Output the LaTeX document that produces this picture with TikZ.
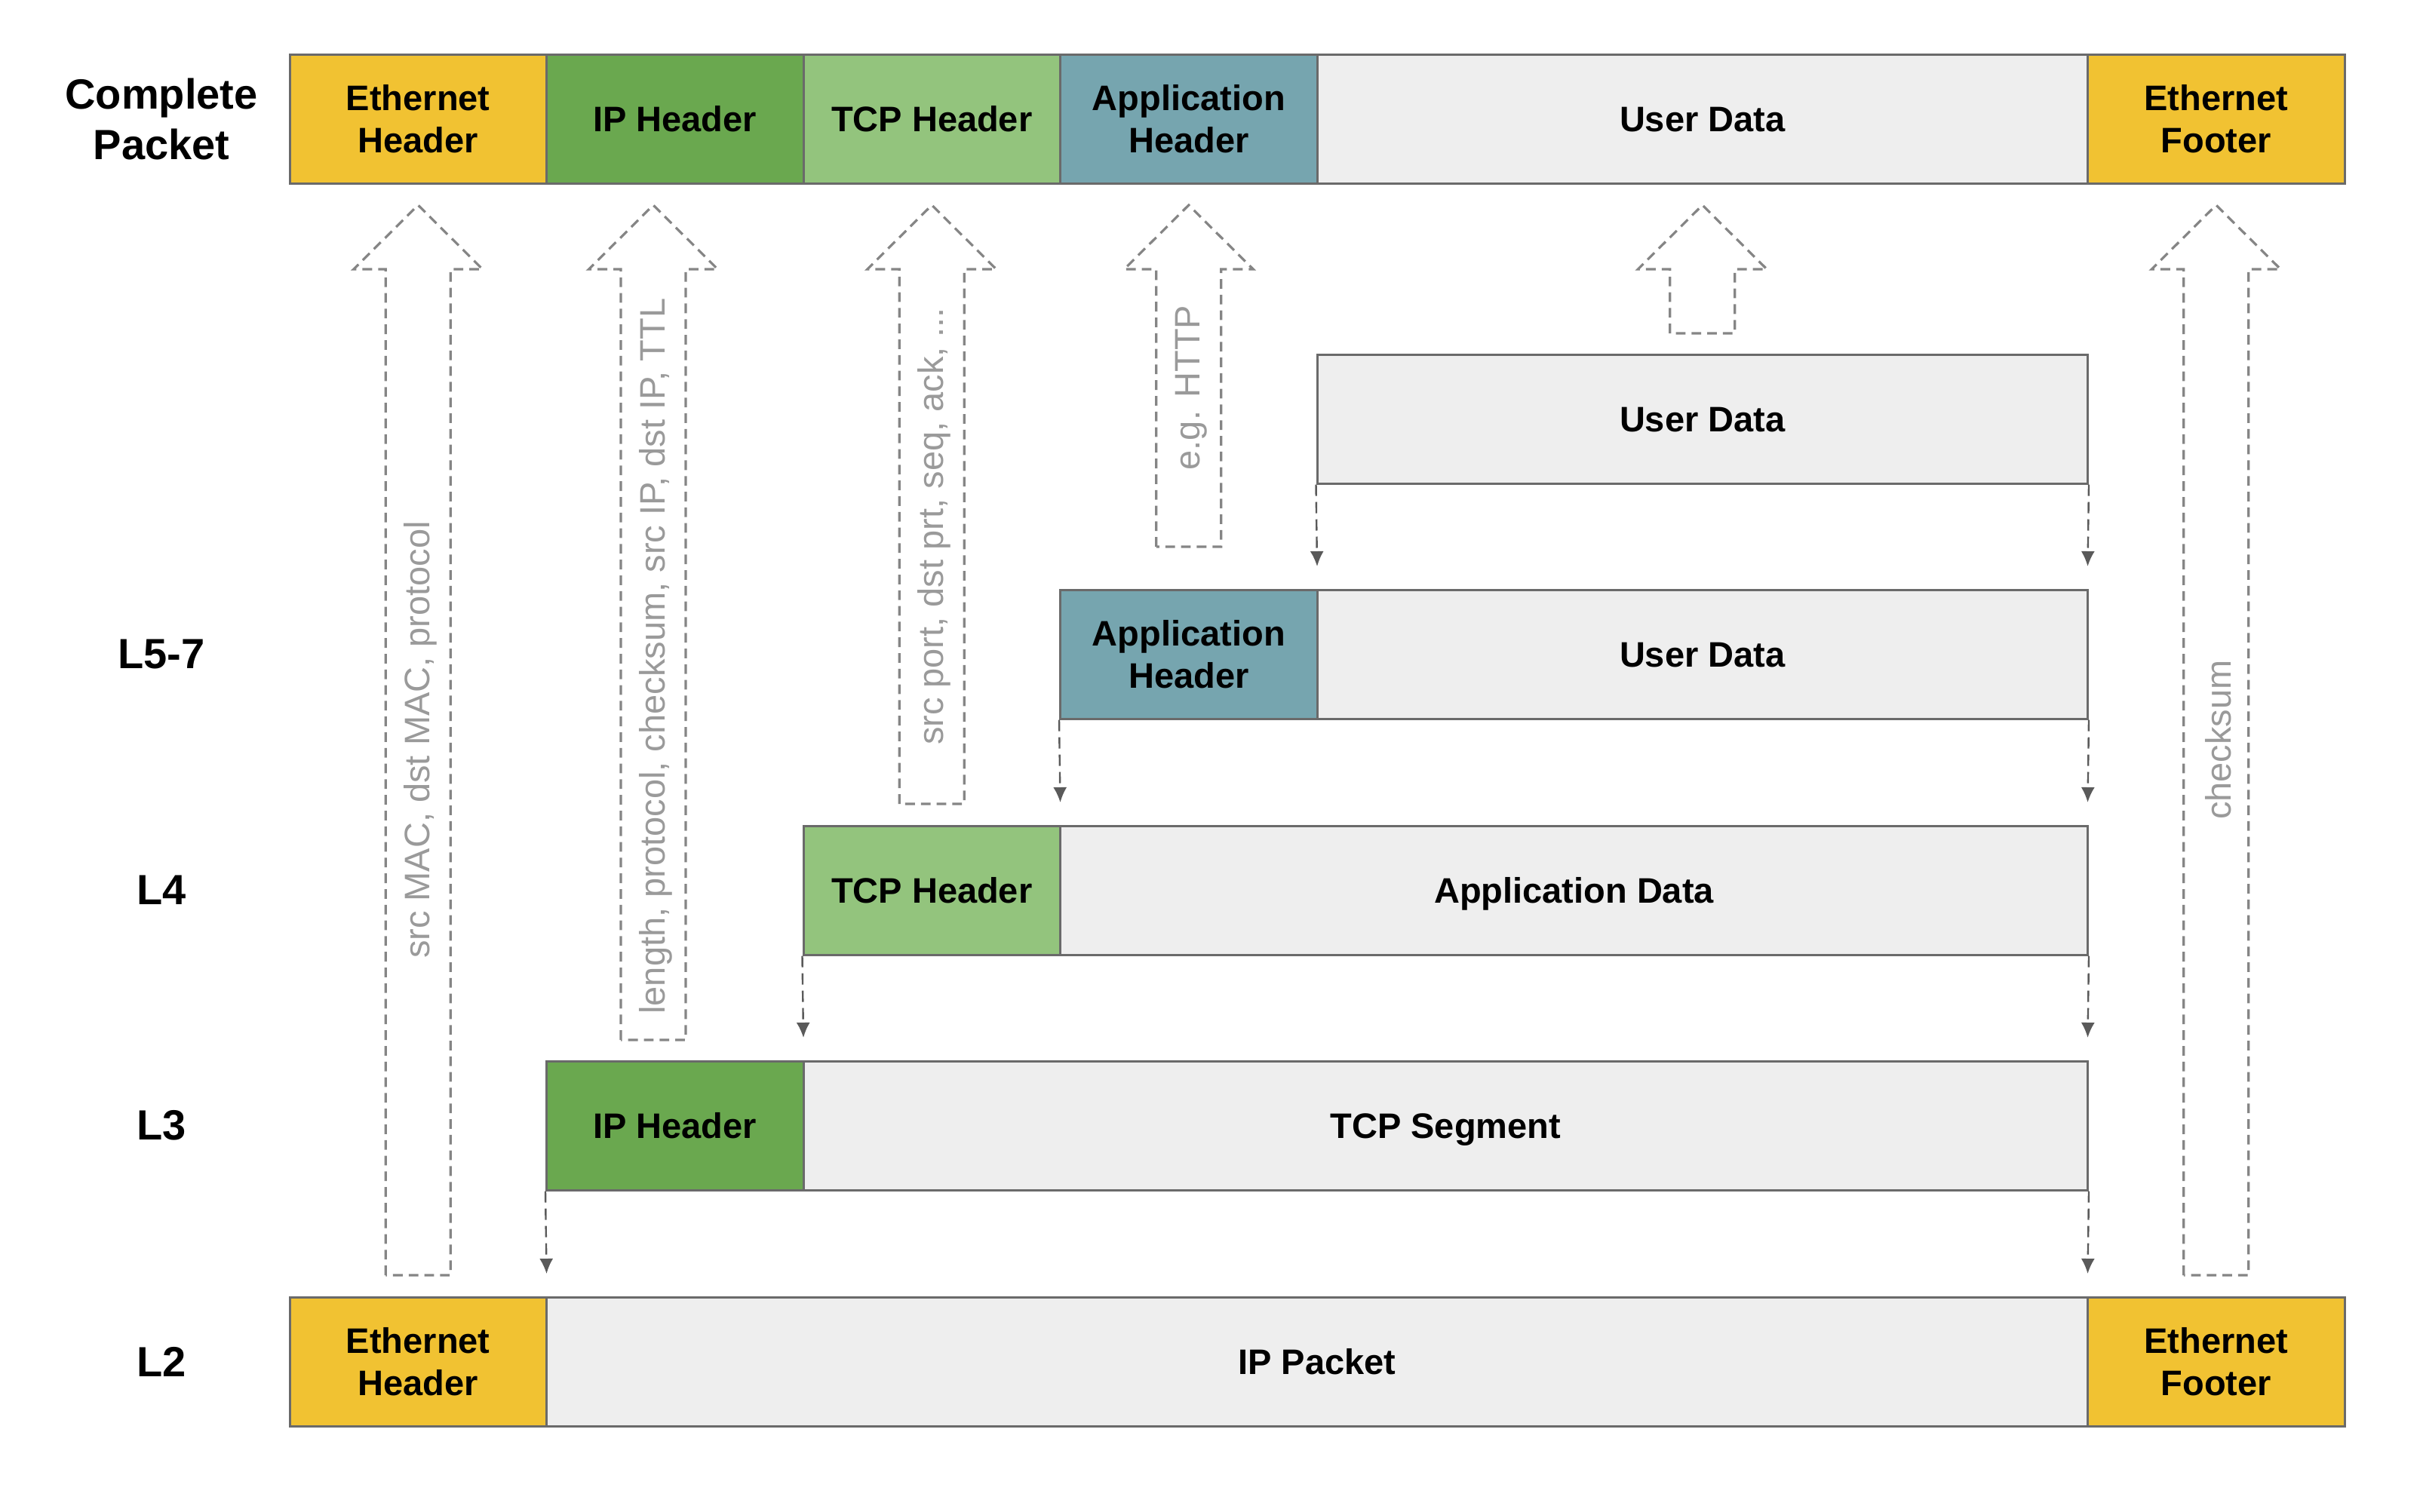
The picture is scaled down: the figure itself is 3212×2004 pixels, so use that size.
\documentclass[tikz,border=0pt]{standalone}
\usepackage{fontspec}
\setmainfont{Liberation Sans}
\usetikzlibrary{arrows.meta}
\definecolor{ethy}{HTML}{F1C232}
\definecolor{ipg}{HTML}{6AA84F}
\definecolor{tcpg}{HTML}{93C47D}
\definecolor{appb}{HTML}{76A5AF}
\definecolor{datag}{HTML}{EEEEEE}
\definecolor{edgeg}{HTML}{6A6A6A}
\definecolor{dashg}{HTML}{858585}
\definecolor{noteg}{HTML}{9A9A9A}
\definecolor{downg}{HTML}{5A5A5A}
\newcommand{\hollowarrow}[2]{%
  \draw[hollow] ({#1-43},#2) -- ({#1-43},357) -- ({#1-85.5},357) -- (#1,272) -- ({#1+85.5},357) -- ({#1+43},357) -- ({#1+43},#2) -- cycle;}
\begin{document}
\begin{tikzpicture}[x=0.25pt,y=-0.25pt,
  cell/.style={draw=edgeg, line width=0.75pt, rectangle, inner sep=0pt, minimum height=42.75pt, align=center, font=\fontsize{11.75}{14}\selectfont\bfseries},
  one/.style={text height=8.4pt, text depth=0pt},
  cw/.style={minimum width=#1*85.125pt},
  layer/.style={font=\fontsize{14}{16.75}\selectfont\bfseries, align=center, inner sep=0pt},
  hollow/.style={draw=dashg, line width=0.8pt, dash pattern=on 3.2pt off 2pt, line join=miter},
  note/.style={text=noteg, font=\fontsize{11.75}{14}\selectfont, rotate=90, inner sep=0pt},
  downarr/.style={draw=downg, line width=0.6pt, dash pattern=on 3.75pt off 2pt, -{Latex[length=5pt,width=4.5pt]}}
]
\useasboundingbox (0,0) rectangle (3212,2004);

% layer labels
\node[layer] (lblC) at (214,158) {Complete\\Packet};
\node[layer] (lbl57) at (214,867.5) {L5-7};
\node[layer] (lbl4) at (214,1180.5) {L4};
\node[layer] (lbl3) at (214,1492.5) {L3};
\node[layer] (lbl2) at (214,1805.5) {L2};

% complete packet
\node[cell, cw=1, fill=ethy] (cEth) at (554.25,158) {Ethernet\\Header};
\node[cell, one, cw=1, fill=ipg] (cIP) at (894.75,158) {IP Header};
\node[cell, one, cw=1, fill=tcpg] (cTCP) at (1235.25,158) {TCP Header};
\node[cell, cw=1, fill=appb] (cApp) at (1575.75,158) {Application\\Header};
\node[cell, one, cw=3, fill=datag] (cUD) at (2256.75,158) {User Data};
\node[cell, cw=1, fill=ethy] (cFoot) at (2937.75,158) {Ethernet\\Footer};

% user data row
\node[cell, one, cw=3, fill=datag] (uUD) at (2256.75,555.5) {User Data};

% L5-7
\node[cell, cw=1, fill=appb] (aHdr) at (1575.75,867.5) {Application\\Header};
\node[cell, one, cw=3, fill=datag] (aUD) at (2256.75,867.5) {User Data};

% L4
\node[cell, one, cw=1, fill=tcpg] (tHdr) at (1235.25,1180.5) {TCP Header};
\node[cell, one, cw=4, fill=datag] (tData) at (2086.5,1180.5) {Application Data};

% L3
\node[cell, one, cw=1, fill=ipg] (iHdr) at (894.75,1492.5) {IP Header};
\node[cell, one, cw=5, fill=datag] (iSeg) at (1916.25,1492.5) {TCP Segment};

% L2
\node[cell, cw=1, fill=ethy] (eHdr) at (554.25,1805.5) {Ethernet\\Header};
\node[cell, one, cw=6, fill=datag] (ePkt) at (1746,1805.5) {IP Packet};
\node[cell, cw=1, fill=ethy] (eFoot) at (2937.75,1805.5) {Ethernet\\Footer};

% hollow dashed up arrows
\hollowarrow{554.25}{1691}
\hollowarrow{866}{1379}
\hollowarrow{1235.25}{1066}
\hollowarrow{1575.75}{725}
\hollowarrow{2256.75}{442}
\hollowarrow{2937.75}{1691}

\node[note] (nEth) at (557,981) {src MAC, dst MAC, protocol};
\node[note] (nIP) at (869,870) {length, protocol, checksum, src IP, dst IP, TTL};
\node[note] (nTCP) at (1238,698) {src port, dst prt, seq, ack, ...};
\node[note] (nApp) at (1579,514) {e.g. HTTP};
\node[note] (nFoot) at (2941,981) {checksum};

% down arrows
\coordinate (d1l) at (1746,751);
\coordinate (d1r) at (2767.5,751);
\coordinate (d2l) at (1405.5,1064);
\coordinate (d2r) at (2767.5,1064);
\coordinate (d3l) at (1065,1376);
\coordinate (d3r) at (2767.5,1376);
\coordinate (d4l) at (724.5,1689);
\coordinate (d4r) at (2767.5,1689);
\draw[downarr] (uUD.south west) -- (d1l);
\draw[downarr] (uUD.south east) -- (d1r);
\draw[downarr] (aHdr.south west) -- (d2l);
\draw[downarr] (aUD.south east) -- (d2r);
\draw[downarr] (tHdr.south west) -- (d3l);
\draw[downarr] (tData.south east) -- (d3r);
\draw[downarr] (iHdr.south west) -- (d4l);
\draw[downarr] (iSeg.south east) -- (d4r);
\end{tikzpicture}
\end{document}
